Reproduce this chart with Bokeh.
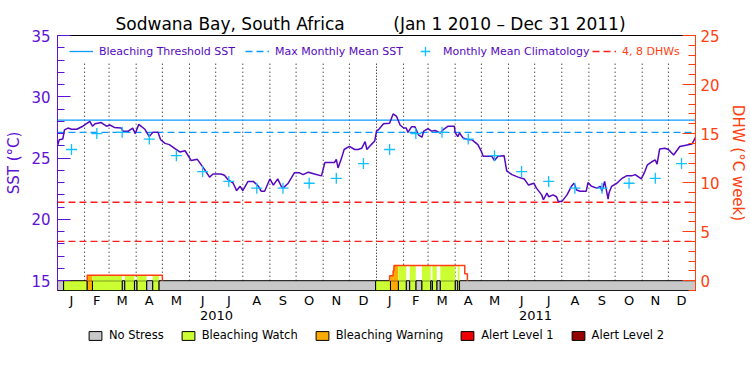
import datetime as dt
import math
from bokeh.plotting import figure
from bokeh.layouts import column
from bokeh.models import (Range1d, LinearAxis, FixedTicker, SingleIntervalTicker,
                          ColumnDataSource, Legend, LegendItem)
from bokeh.embed import file_html
from bokeh.resources import INLINE

# ---------------- data ----------------
title_text = ("Sodwana Bay, South Africa" + "\u00a0" * 9 + "(Jan 1 2010 – Dec 31 2011)")
start_date = dt.date(2010, 1, 1)
end_date = dt.date(2012, 1, 1)
years = [2010, 2011]
month_letters = ["J", "F", "M", "A", "M", "J", "J", "A", "S", "O", "N", "D"]

# SST (days since 2010-01-01, degC)
sst_day = [0, 2, 6, 8, 12, 16, 22, 29, 37, 40, 43, 50, 56, 60, 65, 73, 75, 81, 86, 89,
           93, 100, 105, 109, 115, 118, 123, 128, 134, 140, 146, 153, 160, 168, 174, 178,
           187, 191, 195, 201, 205, 209, 212, 218, 224, 230, 233, 237, 243, 247, 252, 256,
           258, 264, 271, 277, 281, 287, 294, 302, 306, 317, 319, 321, 325, 328, 334, 340,
           344, 348, 352, 354, 359, 363,
           365, 367, 373, 380, 384, 388, 392, 396, 399, 401, 405, 409, 413, 417, 419, 424,
           428, 432, 438, 441, 447, 454, 455, 458, 460, 464, 470, 474, 481, 485, 487, 497,
           500, 504, 511, 514, 520, 527, 534, 539, 545, 548, 554, 556, 560, 562, 567, 571,
           573, 577, 583, 588, 591, 594, 598, 605, 607, 611, 617, 621, 623, 626, 628, 630,
           631, 634, 640, 646, 651, 657, 661, 668, 672, 675, 680, 684, 686, 689, 695, 699,
           705, 712, 726, 730]
sst_val = [26.0, 26.5, 26.55, 27.3, 27.45, 27.35, 27.35, 27.6, 28.0, 27.6, 27.8, 27.9,
           27.6, 27.7, 27.5, 27.45, 27.2, 27.2, 27.45, 27.0, 27.75, 27.35, 26.75, 27.1,
           27.1, 26.5, 26.2, 26.1, 25.8, 25.5, 25.6, 24.8, 24.9, 24.1, 23.45, 23.7, 23.7,
           23.6, 23.25, 22.95, 22.35, 22.7, 22.35, 23.1, 23.1, 22.7, 22.3, 22.3, 23.3,
           22.8, 23.3, 22.7, 22.55, 22.95, 23.8, 23.8, 23.65, 23.85, 23.7, 23.55, 24.65,
           24.65, 24.9, 24.2, 25.0, 25.7, 25.95, 25.7, 25.7, 25.8, 26.35, 25.7, 26.1, 26.4,
           27.2, 27.3, 27.8, 27.85, 28.6, 28.4, 27.7, 27.45, 27.45, 27.1, 27.55, 27.55,
           26.9, 26.7, 27.2, 27.4, 27.2, 27.25, 27.05, 27.3, 27.6, 27.6, 27.1, 26.75,
           27.05, 26.65, 26.5, 26.5, 26.1, 25.55, 25.15, 25.15, 24.8, 25.15, 25.2, 23.95,
           23.65, 23.45, 23.3, 22.8, 22.95, 22.55, 22.0, 21.6, 22.15, 21.85, 22.0, 21.85,
           21.45, 21.45, 22.0, 22.7, 22.95, 22.4, 22.3, 22.3, 23.0, 22.7, 22.55, 22.7,
           22.3, 23.1, 22.4, 21.65, 22.15, 22.7, 22.95, 23.35, 23.55, 23.55, 23.65, 23.3,
           23.9, 24.45, 24.7, 24.85, 24.5, 25.75, 25.8, 25.7, 25.25, 25.95, 26.15, 26.7]

# Monthly mean climatology (degC), Jan..Dec
clim_val = [25.7, 27.0, 27.1, 26.55, 25.2, 23.9, 23.1, 22.55, 22.55, 22.95, 23.35, 24.55]
mmm_sst = 27.1
threshold_sst = 28.1
dhw_levels = [4, 8]

# Stress level segments: 0 no stress, 1 watch, 2 warning, 3 alert 1, 4 alert 2
stress_start = [0, 7, 34, 40, 74, 77, 88, 91, 102, 109, 116, 364, 381, 390, 399, 403,
                410, 417, 427, 429, 434, 438, 455, 458, 460]
stress_level = [0, 1, 2, 1, 0, 1, 0, 1, 0, 1, 0, 1, 2, 1, 0, 1, 0, 1, 0, 1, 0, 1, 0, 1, 0]

# Degree heating weeks (step changes)
dhw_day = [0, 34, 120, 380, 384, 385, 466, 469]
dhw_val = [0, 0.55, 0, 0.5, 1.0, 1.55, 0.7, 0]

stress_names = ["No Stress", "Bleaching Watch", "Bleaching Warning", "Alert Level 1", "Alert Level 2"]
stress_colors = ["#c8c8c8", "#ccff33", "#ffaa00", "#f00000", "#960000"]

# ---------------- derived ----------------
n_days = (end_date - start_date).days
month_starts = []
mid_months = []
for y in years:
    for m in range(1, 13):
        d0 = dt.date(y, m, 1)
        d1 = dt.date(y + (m == 12), m % 12 + 1, 1)
        a = (d0 - start_date).days
        b = (d1 - start_date).days
        month_starts.append(a)
        mid_months.append(int(round((a + b) / 2)))
year_mid = [int(((dt.date(y, 7, 2) - start_date).days)) for y in years]
year_start_2011 = (dt.date(2011, 1, 1) - start_date).days

PURPLE = "#6010d8"
LINE_PURPLE = "#5508c0"
BLUE = "#0a9bff"
CYAN = "#10c0ff"
RED = "#ff1e1e"
ORANGE_RED = "#ff4010"

p = figure(width=750, height=328, output_backend="svg", toolbar_location=None,
           x_range=Range1d(0, n_days), y_range=Range1d(14.2, 35),
           x_axis_type=None, y_axis_type=None,
           min_border_left=57, min_border_right=55, min_border_top=35, min_border_bottom=38)
p.extra_y_ranges = {"dhw": Range1d(-1, 25)}
p.outline_line_color = "black"
p.outline_line_width = 1
p.background_fill_color = "white"
p.border_fill_color = "white"

# title
p.title.text = title_text
p.title.text_font = "DejaVu Sans"
p.title.text_font_size = "17px"
p.title.text_font_style = "normal"
p.title.text_color = "black"
p.title.align = "left"
p.title.offset = 58
p.title.standoff = 4

# axes
left = LinearAxis(ticker=SingleIntervalTicker(interval=5, num_minor_ticks=5),
                  axis_label="SST (°C)")
right = LinearAxis(y_range_name="dhw", ticker=SingleIntervalTicker(interval=5, num_minor_ticks=5),
                   axis_label="DHW (°C week)")
for ax, col, so, lso in ((left, PURPLE, 7, 5), (right, ORANGE_RED, 5, 6)):
    ax.axis_line_color = col
    ax.major_tick_line_color = col
    ax.minor_tick_line_color = col
    ax.major_tick_in = 13
    ax.major_tick_out = 0
    ax.minor_tick_in = 7
    ax.minor_tick_out = 0
    ax.major_label_text_color = col
    ax.major_label_text_font = "DejaVu Sans"
    ax.major_label_text_font_size = "15px"
    ax.major_label_standoff = so
    ax.axis_label_text_color = col
    ax.axis_label_text_font = "DejaVu Sans"
    ax.axis_label_text_font_size = "15px"
    ax.axis_label_text_font_style = "normal"
    ax.axis_label_standoff = lso
p.add_layout(left, "left")
p.add_layout(right, "right")

month_axis = LinearAxis(ticker=FixedTicker(ticks=mid_months),
                        major_label_overrides={t: month_letters[i % 12] for i, t in enumerate(mid_months)})
year_axis = LinearAxis(ticker=FixedTicker(ticks=year_mid),
                       major_label_overrides={t: str(years[i]) for i, t in enumerate(year_mid)})
for ax, so in ((month_axis, 2), (year_axis, 0)):
    ax.axis_line_color = None
    ax.major_tick_line_color = None
    ax.minor_tick_line_color = None
    ax.major_tick_in = 0
    ax.major_tick_out = 0
    ax.minor_tick_in = 0
    ax.minor_tick_out = 0
    ax.major_label_text_font = "DejaVu Sans"
    ax.major_label_text_font_size = "13px"
    ax.major_label_text_color = "black"
    ax.major_label_standoff = so
p.add_layout(month_axis, "below")
p.add_layout(year_axis, "below")

# dotted month grid lines
grid_top = 32.77
gx = [m for m in month_starts if m > 0 and m != year_start_2011]
p.segment(x0=gx, x1=gx, y0=[15] * len(gx), y1=[grid_top] * len(gx),
          line_color="black", line_dash="1 3", line_width=1)
p.segment(x0=[year_start_2011], x1=[year_start_2011], y0=[15], y1=[grid_top],
          line_color="black", line_dash="1 2", line_width=1)

# horizontal reference lines
r_thr = p.line(x=[0, n_days], y=[threshold_sst] * 2, line_color=BLUE, line_width=1.3)
r_mmm = p.line(x=[0, n_days], y=[mmm_sst] * 2, line_color=BLUE, line_width=1.3, line_dash="7 4")
r_dhw = p.multi_line(xs=[[0, n_days] for _ in dhw_levels], ys=[[v, v] for v in dhw_levels],
                     y_range_name="dhw", line_color=RED, line_width=1.3, line_dash="7 4")

# stress bar
stress_end = stress_start[1:] + [n_days]
for lvl in range(5):
    idx = [i for i, l in enumerate(stress_level) if l == lvl]
    src = ColumnDataSource(dict(left=[stress_start[i] for i in idx],
                                right=[stress_end[i] for i in idx],
                                bottom=[-1] * len(idx), top=[0] * len(idx)))
    p.quad(left="left", right="right", bottom="bottom", top="top", source=src,
           y_range_name="dhw", fill_color=stress_colors[lvl], line_color="black",
           line_width=1)


def step_value(days, vals, d):
    v = vals[0]
    for dd, vv in zip(days, vals):
        if dd <= d:
            v = vv
    return v


# DHW area coloured by stress level
breaks = sorted(set(stress_start + dhw_day + [n_days]))
fl, fr, ft, fc = [], [], [], []
for a, b in zip(breaks[:-1], breaks[1:]):
    v = step_value(dhw_day, dhw_val, a)
    lvl = step_value(stress_start, stress_level, a)
    if v > 0 and lvl > 0:
        fl.append(a); fr.append(b); ft.append(v); fc.append(stress_colors[lvl])
p.quad(left=fl, right=fr, bottom=[0] * len(fl), top=ft, fill_color=fc, line_color=None,
       y_range_name="dhw")

# DHW outline
ox, oy = [], []
prev = 0
for d, v in zip(dhw_day, dhw_val):
    ox += [d, d]
    oy += [prev, v]
    if v == 0:
        ox.append(math.nan); oy.append(math.nan)
    prev = v
p.line(x=ox, y=oy, y_range_name="dhw", line_color=ORANGE_RED, line_width=1.5)

# SST
p.line(x=sst_day, y=sst_val, line_color=LINE_PURPLE, line_width=1.5)

# climatology crosses
clim_x = [mid_months[i] for i in range(24)]
clim_y = [clim_val[i % 12] for i in range(24)]
r_clim = p.scatter(x=clim_x, y=clim_y, marker="cross", size=11, line_color=CYAN, line_width=1.3)

# top legends
leg1 = Legend(items=[LegendItem(label="Bleaching Threshold SST", renderers=[r_thr]),
                     LegendItem(label="Max Monthly Mean SST", renderers=[r_mmm]),
                     LegendItem(label="Monthly Mean Climatology", renderers=[r_clim])],
              orientation="horizontal", location=(12, 227))
leg2 = Legend(items=[LegendItem(label="4, 8 DHWs", renderers=[r_dhw])],
              orientation="horizontal", location=(535, 227))
for lg, col in ((leg1, LINE_PURPLE), (leg2, ORANGE_RED)):
    lg.label_text_color = col
    lg.label_text_font = "DejaVu Sans"
    lg.label_text_font_size = "11px"
    lg.glyph_width = 24
    lg.glyph_height = 24
    lg.label_height = 12
    lg.label_standoff = 6
    lg.spacing = 10
    lg.padding = 0
    lg.margin = 0
    lg.border_line_color = None
    lg.background_fill_alpha = 0
    p.add_layout(lg)

# stress legend in a strip figure below (frames are aligned with the main plot)
p2 = figure(width=750, height=47, output_backend="svg", toolbar_location=None,
            x_range=Range1d(0, 1), y_range=Range1d(0, 1), x_axis_type=None, y_axis_type=None,
            min_border_left=57, min_border_right=55, min_border_top=0, min_border_bottom=0)
p2.outline_line_color = None
p2.background_fill_color = "white"
p2.border_fill_color = "white"
items = []
for i in range(5):
    # legend proxy marks, placed outside the visible range
    r = p2.quad(left=[-3], right=[-2], bottom=[-3], top=[-2], fill_color=stress_colors[i],
                line_color="black", line_width=1)
    items.append(LegendItem(label=stress_names[i], renderers=[r]))
leg3 = Legend(items=items, orientation="horizontal", location=(30, 33))
leg3.label_text_font = "DejaVu Sans"
leg3.label_text_font_size = "11.5px"
leg3.label_text_color = "black"
leg3.glyph_width = 16
leg3.glyph_height = 11
leg3.label_height = 13
leg3.label_standoff = 6
leg3.spacing = 16
leg3.padding = 0
leg3.margin = 0
leg3.border_line_color = None
leg3.background_fill_alpha = 0
p2.add_layout(leg3)

layout = column(p, p2, spacing=0)
open("out.html", "w").write(file_html(layout, INLINE))
